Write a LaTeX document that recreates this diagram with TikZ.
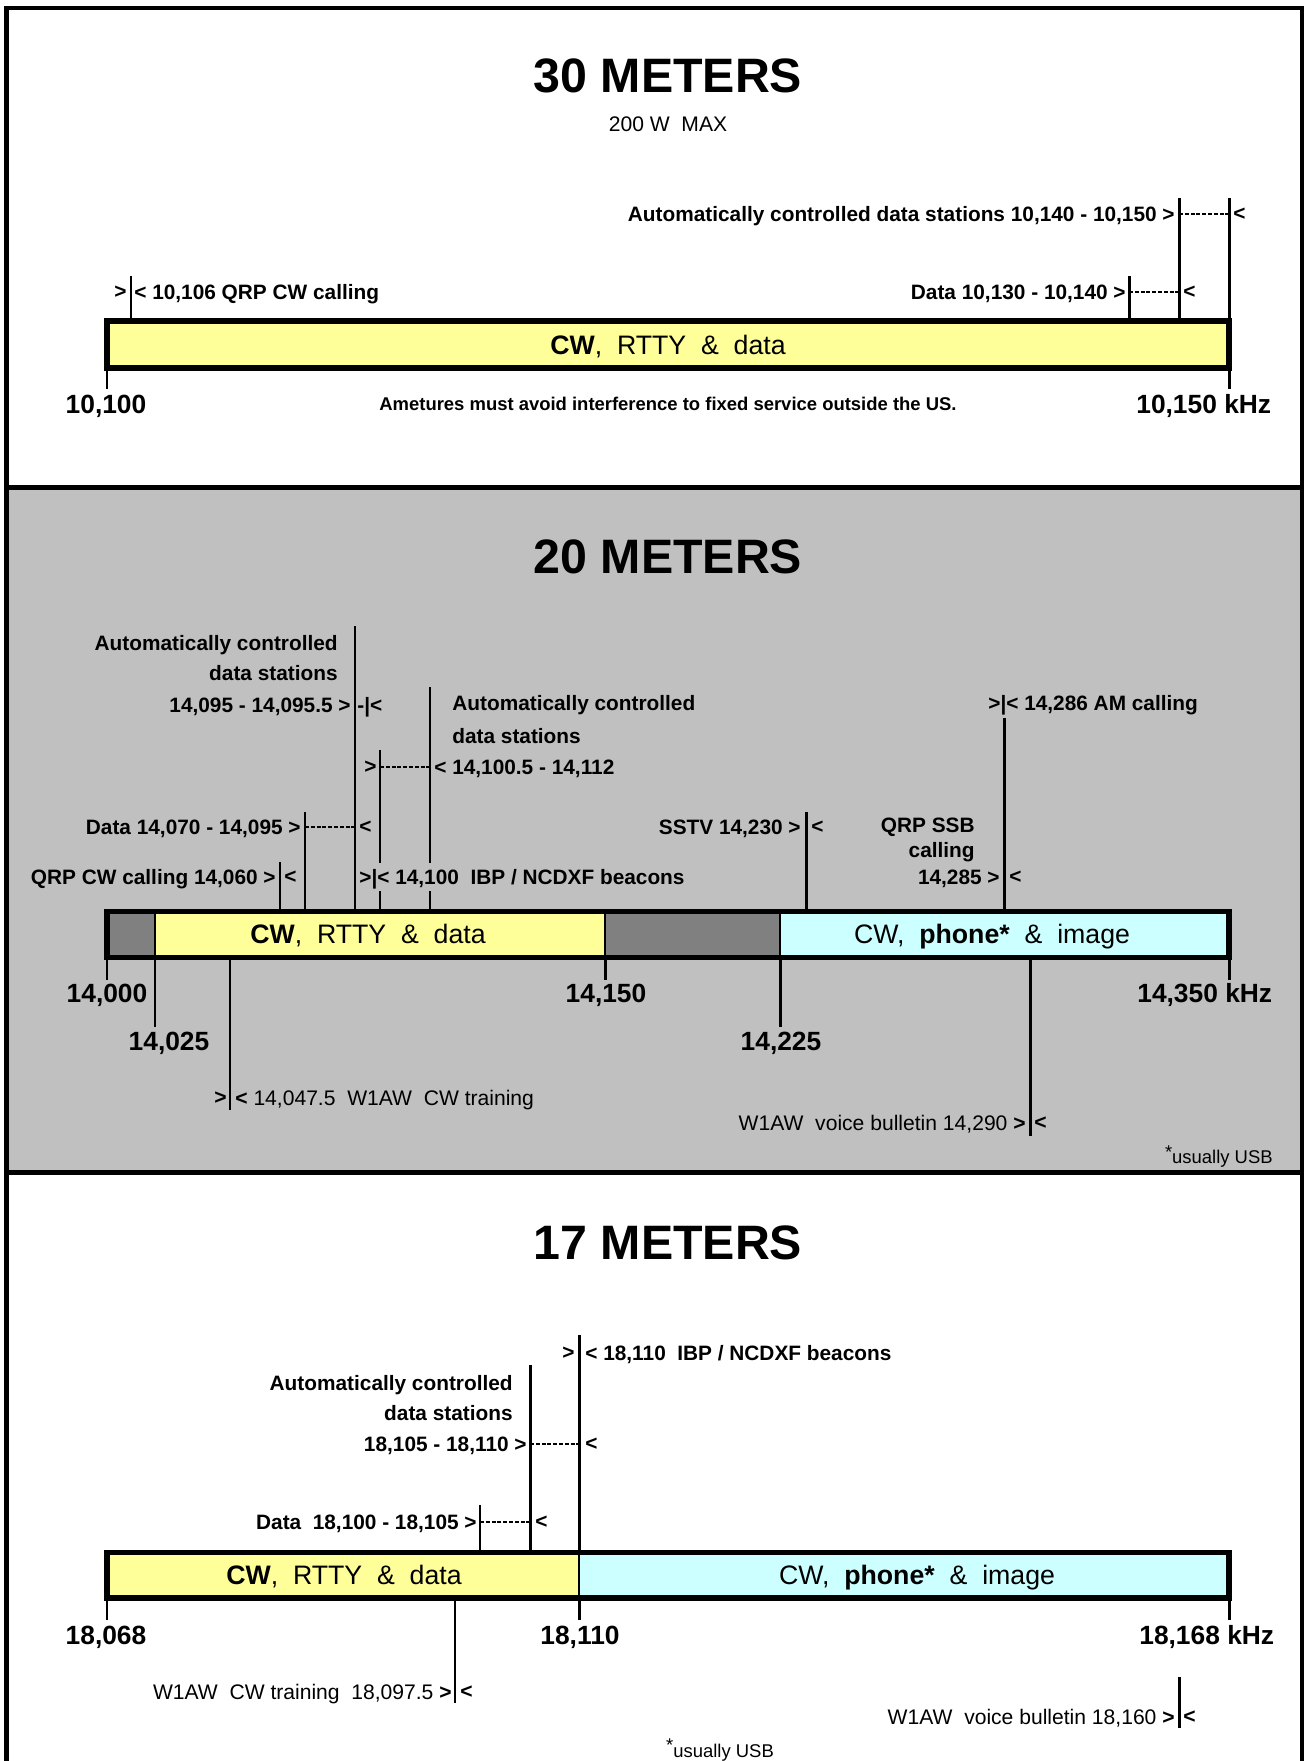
\documentclass[tikz,border=0pt]{standalone}
\usepackage{fontspec}
\setmainfont{Liberation Sans}
\usepackage{xcolor}
\usetikzlibrary{positioning,calc}
\definecolor{bandyellow}{HTML}{FFFF99}
\definecolor{bandcyan}{HTML}{CCFFFF}
\definecolor{banddark}{HTML}{808080}
\definecolor{secgray}{HTML}{C0C0C0}

\begin{document}
\begin{tikzpicture}[
    x=0.02cm, y=-0.02cm,
    title/.style={font=\fontsize{27.5}{32}\selectfont\bfseries, inner sep=0pt, text depth=0pt},
    lbl/.style={font=\fontsize{11.85}{14}\selectfont\bfseries, inner sep=0pt, text depth=0pt},
    rlbl/.style={font=\fontsize{12}{14}\selectfont, inner sep=0pt, text depth=0pt},
    freq/.style={font=\fontsize{15}{18}\selectfont\bfseries, inner sep=0pt, text depth=0pt},
    bandtext/.style={font=\fontsize{15.2}{18}\selectfont, inner sep=0pt, text depth=0pt},
    smallnote/.style={font=\fontsize{10.5}{12}\selectfont, inner sep=0pt, text depth=0pt},
    fline/.style={line width=1.7pt},
    span/.style={line width=0.85pt, dash pattern=on 2.3pt off 1pt},
    band/.style={line width=3.1pt},
    divider/.style={line width=2.8pt}
]
% page, frame and panels
\useasboundingbox (0,0) rectangle (1306,1761);
\fill[white] (0,0) rectangle (1306,1761);
\fill[secgray] (6.7,487.5) rectangle (1302,1172.5);
\draw[divider] (6.7,487.5) -- (1302,487.5);
\draw[divider] (6.7,1172.5) -- (1302,1172.5);
\draw[line width=2.6pt] (6.7,1770) -- (6.7,8) -- (1302,8) -- (1302,1770);

%% 30 METERS
\node[title] (t30) at (668,76) {30 METERS};
\node[rlbl] (p30) at (668,124) {200 W~ MAX};

\coordinate (b30nw) at (107,321);
\coordinate (b30se) at (1229,368);
\coordinate (k30a) at (131,276);
\coordinate (k30b) at (1129,276);
\coordinate (k30c) at (1179,198);
\coordinate (k30d) at (1229,198);
\draw[fline] (k30a) -- (k30a |- b30nw);
\draw[fline] (k30b) -- (k30b |- b30nw);
\draw[fline] (k30c) -- (k30c |- b30nw);
\draw[fline] (k30d) -- (k30d |- b30nw);

\node[lbl, anchor=east] (a30) at (1175,214) {Automatically controlled data stations 10,140 - 10,150 >};
\node[lbl, anchor=west] (a30r) at (1233,214) {<};
\draw[span] (a30.east -| k30c) -- (a30.east -| k30d);
\node[lbl, anchor=east] (q30l) at (127,292) {>};
\node[lbl, anchor=west] (q30) at (134,292) {< 10,106 QRP CW calling};
\node[lbl, anchor=east] (d30) at (1126,292) {Data 10,130 - 10,140 >};
\node[lbl, anchor=west] (d30r) at (1183,292) {<};
\draw[span] (d30.east -| k30b) -- (d30.east -| k30c);

\draw[band, fill=bandyellow] (b30nw) rectangle (b30se);
\node[bandtext] (m30) at (668,345) {\textbf{CW},~ RTTY~ \&~ data};

\coordinate (f30a) at (107,389);
\coordinate (f30b) at (1229,389);
\draw[fline] (f30a |- b30se) -- (f30a);
\draw[fline] (f30b |- b30se) -- (f30b);
\node[freq] (v30a) at (106,404) {10,100};
\node[freq, anchor=west] (v30b) at (1136,404) {10,150 kHz};
\node[lbl, font=\fontsize{10.5}{12}\selectfont\bfseries] (n30) at (668,404) {Ametures must avoid interference to fixed service outside the US.};

%% 20 METERS
\node[title] (t20) at (668,557) {20 METERS};

\coordinate (b20nw) at (107,911.5);
\coordinate (b20se) at (1229,957.5);
\coordinate (k20a) at (280,862);
\coordinate (k20b) at (305,812);
\coordinate (k20c) at (355,626);
\coordinate (k20d) at (380,750);
\coordinate (k20e) at (430,687);
\coordinate (k20f) at (806,812);
\coordinate (k20g) at (1004,718);
\draw[fline] (k20a) -- (k20a |- b20nw);
\draw[fline] (k20b) -- (k20b |- b20nw);
\draw[fline] (k20c) -- (k20c |- b20nw);
\draw[fline] (k20d) -- (k20d |- b20nw);
\draw[fline] (k20e) -- (k20e |- b20nw);
\draw[fline] (k20f) -- (k20f |- b20nw);
\draw[fline] (k20g) -- (k20g |- b20nw);

\node[lbl, anchor=east] (a20a) at (338,643) {Automatically controlled};
\node[lbl, anchor=east] (a20b) at (338,673) {data stations};
\node[lbl, anchor=east] (a20c) at (351,705) {14,095 - 14,095.5 >};
\node[lbl, anchor=west] (a20d) at (357,705) {-|<};
\node[lbl, anchor=west] (c20a) at (452,703) {Automatically controlled};
\node[lbl, anchor=west] (c20b) at (452,736) {data stations};
\node[lbl, anchor=east] (c20l) at (377,767) {>};
\node[lbl, anchor=west] (c20c) at (434,767) {< 14,100.5 - 14,112};
\draw[span] (c20c.west -| k20d) -- (c20c.west -| k20e);
\node[lbl, anchor=east] (d20) at (301,827) {Data 14,070 - 14,095 >};
\node[lbl, anchor=west] (d20r) at (359,827) {<};
\draw[span] (d20.east -| k20b) -- (d20.east -| k20c);
\node[lbl, anchor=east] (q20) at (276,877) {QRP CW calling 14,060 >};
\node[lbl, anchor=west] (q20r) at (284,877) {<};
\node[lbl, anchor=west, fill=secgray, inner ysep=3.8pt] (i20) at (359,877) {>|< 14,100~ IBP / NCDXF beacons};
\node[lbl, anchor=east] (s20) at (801,827) {SSTV 14,230 >};
\node[lbl, anchor=west] (s20r) at (811,827) {<};
\node[lbl, anchor=east] (r20a) at (975,825) {QRP SSB};
\node[lbl, anchor=east] (r20b) at (975,850) {calling};
\node[lbl, anchor=east] (r20c) at (1000,877) {14,285 >};
\node[lbl, anchor=west] (r20r) at (1009,877) {<};
\node[lbl, anchor=west] (am20) at (988,703) {>|< 14,286 AM calling};

\fill[banddark] (b20nw) rectangle (155,957.5);
\fill[bandyellow] (155,911.5) rectangle (605,957.5);
\fill[banddark] (605,911.5) rectangle (780,957.5);
\fill[bandcyan] (780,911.5) rectangle (b20se);
\draw[line width=0.6pt] (155,911.5) -- (155,957.5) (605,911.5) -- (605,957.5) (780,911.5) -- (780,957.5);
\draw[band] (b20nw) rectangle (b20se);
\node[bandtext] (m20a) at (368,934) {\textbf{CW},~ RTTY~ \&~ data};
\node[bandtext] (m20b) at (992,934) {CW,~ \textbf{phone*}~ \&~ image};

\coordinate (f20a) at (107,980);
\coordinate (f20b) at (155,1027);
\coordinate (f20c) at (230,1110);
\coordinate (f20d) at (605,980);
\coordinate (f20e) at (780,1027);
\coordinate (f20f) at (1030,1136);
\coordinate (f20g) at (1229,980);
\draw[fline] (f20a |- b20se) -- (f20a);
\draw[fline] (f20b |- b20se) -- (f20b);
\draw[fline] (f20c |- b20se) -- (f20c);
\draw[fline] (f20d |- b20se) -- (f20d);
\draw[fline] (f20e |- b20se) -- (f20e);
\draw[fline] (f20f |- b20se) -- (f20f);
\draw[fline] (f20g |- b20se) -- (f20g);

\node[freq] (v20a) at (107,993) {14,000};
\node[freq] (v20b) at (169,1041) {14,025};
\node[freq] (v20c) at (606,993) {14,150};
\node[freq] (v20d) at (781,1041) {14,225};
\node[freq, anchor=west] (v20e) at (1137,993) {14,350 kHz};
\node[rlbl, anchor=east] (tr20l) at (227,1098) {\textbf{>}};
\node[rlbl, anchor=west] (tr20) at (235,1098) {\textbf{<} 14,047.5~ W1AW~ CW training};
\node[rlbl, anchor=east] (vb20) at (1026,1123) {W1AW~ voice bulletin 14,290 \textbf{>}};
\node[rlbl, anchor=west] (vb20r) at (1034,1123) {\textbf{<}};
\node[smallnote, anchor=east] (u20) at (1273,1155) {\raisebox{3pt}{*}usually USB};

%% 17 METERS
\node[title] (t17) at (668,1243) {17 METERS};

\coordinate (b17nw) at (107,1552.5);
\coordinate (b17se) at (1229,1598);
\coordinate (k17a) at (480,1505);
\coordinate (k17b) at (530,1365);
\coordinate (k17c) at (579,1335);
\draw[fline] (k17a) -- (k17a |- b17nw);
\draw[fline] (k17b) -- (k17b |- b17nw);
\draw[fline] (k17c) -- (k17c |- b17nw);

\node[lbl, anchor=east] (i17l) at (575,1353) {>};
\node[lbl, anchor=west] (i17) at (585,1353) {< 18,110~ IBP / NCDXF beacons};
\node[lbl, anchor=east] (a17a) at (513,1383) {Automatically controlled};
\node[lbl, anchor=east] (a17b) at (513,1413) {data stations};
\node[lbl, anchor=east] (a17c) at (527,1444) {18,105 - 18,110 >};
\node[lbl, anchor=west] (a17r) at (585,1444) {<};
\draw[span] (a17c.east -| k17b) -- (a17c.east -| k17c);
\node[lbl, anchor=east] (d17) at (477,1522) {Data~ 18,100 - 18,105 >};
\node[lbl, anchor=west] (d17r) at (535,1522) {<};
\draw[span] (d17.east -| k17a) -- (d17.east -| k17b);

\fill[bandyellow] (b17nw) rectangle (579,1598);
\fill[bandcyan] (579,1552.5) rectangle (b17se);
\draw[line width=0.6pt] (579,1552.5) -- (579,1598);
\draw[band] (b17nw) rectangle (b17se);
\node[bandtext] (m17a) at (344,1575) {\textbf{CW},~ RTTY~ \&~ data};
\node[bandtext] (m17b) at (917,1575) {CW,~ \textbf{phone*}~ \&~ image};

\coordinate (f17a) at (107,1620);
\coordinate (f17b) at (579,1620);
\coordinate (f17c) at (1229,1620);
\coordinate (f17d) at (455,1703);
\draw[fline] (f17a |- b17se) -- (f17a);
\draw[fline] (f17b |- b17se) -- (f17b);
\draw[fline] (f17c |- b17se) -- (f17c);
\draw[fline] (f17d |- b17se) -- (f17d);
\coordinate (k17d) at (1179,1677);
\coordinate (k17e) at (1179,1728);
\draw[fline] (k17d) -- (k17e);

\node[freq] (v17a) at (106,1635) {18,068};
\node[freq] (v17b) at (580,1635) {18,110};
\node[freq, anchor=west] (v17c) at (1139,1635) {18,168 kHz};
\node[rlbl, anchor=east] (tr17) at (452,1692) {W1AW~ CW training~ 18,097.5 \textbf{>}};
\node[rlbl, anchor=west] (tr17r) at (460,1692) {\textbf{<}};
\node[rlbl, anchor=east] (vb17) at (1175,1717) {W1AW~ voice bulletin 18,160 \textbf{>}};
\node[rlbl, anchor=west] (vb17r) at (1183,1717) {\textbf{<}};
\node[smallnote] (u17) at (720,1748) {\raisebox{3pt}{*}usually USB};
\end{tikzpicture}
\end{document}
